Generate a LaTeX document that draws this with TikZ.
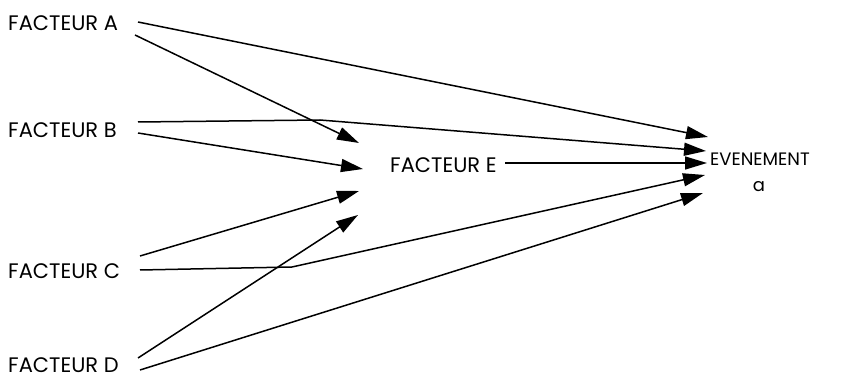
\documentclass[tikz,border=0pt]{standalone}
\usepackage{fontspec}
\setmainfont{Poppins}
\usetikzlibrary{arrows.meta}
\begin{document}
\begin{tikzpicture}[x=1pt,y=-1pt,
  lbl/.style={inner sep=0pt,font=\fontsize{21}{24}\selectfont},
  evlbl/.style={inner sep=0pt,font=\fontsize{18}{20}\selectfont},
  link/.style={line width=1.5pt,-{Triangle[length=22pt,width=13pt]}}]
\useasboundingbox (0,0) rectangle (844,382);
\node[lbl,anchor=west] (A) at (8,23) {FACTEUR A};
\node[lbl,anchor=west] (B) at (8,130) {FACTEUR B};
\node[lbl,anchor=west] (C) at (8,271) {FACTEUR C};
\node[lbl,anchor=west] (D) at (8,365) {FACTEUR D};
\node[lbl,anchor=west] (E) at (390,165) {FACTEUR E};
\node[evlbl] (EV) at (760,159) {EVENEMENT};
\node[evlbl,anchor=base] (EVa) at (759,192) {a};
% start points
\coordinate (a1) at (138,22);
\coordinate (a2) at (135,35);
\coordinate (b1) at (138,122);
\coordinate (b2) at (138,133);
\coordinate (c1) at (140,256);
\coordinate (c2) at (140,270);
\coordinate (d1) at (138,358);
\coordinate (d2) at (140,370);
\coordinate (e1) at (505,163);
% bends
\coordinate (bb) at (320,120);
\coordinate (cb) at (292,267);
% tips at E
\coordinate (ea) at (359,143);
\coordinate (eb) at (363,169);
\coordinate (ec) at (359,191);
\coordinate (ed) at (358,215);
% tips at EV
\coordinate (va) at (708,137);
\coordinate (vb) at (706,151);
\coordinate (ve) at (707,163);
\coordinate (vc) at (705,175);
\coordinate (vd) at (703,193);
\draw[link] (a1) -- (va);
\draw[link] (a2) -- (ea);
\draw[link] (b1) -- (bb) -- (vb);
\draw[link] (b2) -- (eb);
\draw[link] (c1) -- (ec);
\draw[link] (c2) -- (cb) -- (vc);
\draw[link] (d1) -- (ed);
\draw[link] (d2) -- (vd);
\draw[link] (e1) -- (ve);
\end{tikzpicture}
\end{document}
